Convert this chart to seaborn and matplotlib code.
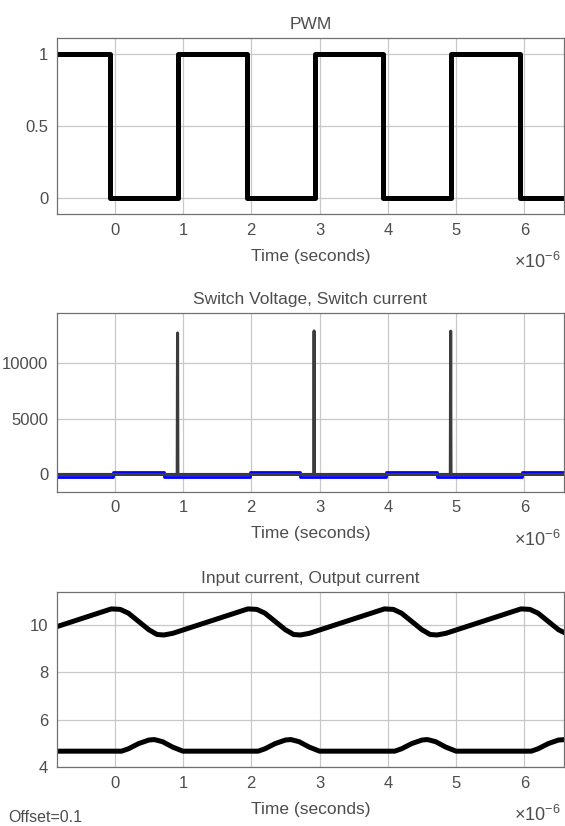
import numpy as np
import pandas as pd
import matplotlib
matplotlib.use("Agg")
import matplotlib.pyplot as plt
import seaborn as sns

# time axis in microseconds (shown with a x10^-6 multiplier like the scope plot)
pwm_t = [-0.85, -0.07, 0.93, 1.93, 2.93, 3.93, 4.93, 5.93, 6.6]
pwm_v = [1, 0, 1, 0, 1, 0, 1, 0, 0]

isw_t = [-0.85, -0.02, 0.72, 1.98, 2.72, 3.98, 4.72, 5.97, 6.6]
isw_v = [-230, 180, -230, 180, -230, 180, -230, 180, 180]

vsw_t = [-0.85, 0.915, 0.92, 0.925, 2.915, 2.92, 2.925, 4.915, 4.92, 4.925, 6.6]
vsw_v = [0, 0, 12640, 0, 0, 12820, 0, 0, 12800, 0, 0]

iin_t = [-0.85, -0.05, 0.08, 0.2, 0.35, 0.5, 0.62, 0.72, 0.85,
         1.95, 2.08, 2.2, 2.35, 2.5, 2.62, 2.72, 2.85,
         3.95, 4.08, 4.2, 4.35, 4.5, 4.62, 4.72, 4.85,
         5.95, 6.08, 6.2, 6.35, 6.5, 6.6]
iin_v = [9.93, 10.68, 10.66, 10.5, 10.15, 9.8, 9.6, 9.58, 9.65,
         10.68, 10.66, 10.5, 10.15, 9.8, 9.6, 9.58, 9.65,
         10.68, 10.66, 10.5, 10.15, 9.8, 9.6, 9.58, 9.65,
         10.68, 10.66, 10.5, 10.15, 9.8, 9.66]

iout_t = [-0.85, 0.1, 0.2, 0.35, 0.5, 0.58, 0.7, 0.85, 1.0,
          2.1, 2.2, 2.35, 2.5, 2.58, 2.7, 2.85, 3.0,
          4.1, 4.2, 4.35, 4.5, 4.58, 4.7, 4.85, 5.0,
          6.1, 6.2, 6.35, 6.5, 6.6]
iout_v = [4.68, 4.68, 4.78, 5.0, 5.15, 5.17, 5.08, 4.85, 4.68,
          4.68, 4.78, 5.0, 5.15, 5.17, 5.08, 4.85, 4.68,
          4.68, 4.78, 5.0, 5.15, 5.17, 5.08, 4.85, 4.68,
          4.68, 4.78, 5.0, 5.15, 5.17]

xticks = [0, 1, 2, 3, 4, 5, 6]

sns.set_style("white")
plt.rcParams["font.family"] = ["Liberation Sans", "DejaVu Sans"]
plt.rcParams["mathtext.fontset"] = "custom"
plt.rcParams["mathtext.rm"] = "Liberation Sans"
txt = "#4d4d4d"

fig = plt.figure(figsize=(5.65, 8.26), dpi=100)
left, width = 56.7 / 565, (564 - 56.7) / 565
boxes = [(38.3, 214.3), (313.3, 491.7), (592.3, 767.3)]
axes = [fig.add_axes([left, 1 - b / 826, width, (b - t) / 826]) for t, b in boxes]


def style(ax, title, yticks, ylim):
    ax.set_xlim(-0.85, 6.58)
    ax.set_ylim(*ylim)
    ax.set_xticks(xticks)
    ax.set_yticks(yticks)
    ax.set_yticklabels([f"{v:g}" for v in yticks])
    ax.grid(True, color="#c8c8c8", lw=0.9)
    ax.set_axisbelow(True)
    ax.tick_params(direction="in", length=3, colors="#606060", labelcolor=txt,
                   labelsize=12, pad=6)
    for s in ax.spines.values():
        s.set_color("#707070")
        s.set_linewidth(0.9)
    ax.set_title(title, fontsize=12.5, color=txt, pad=7)
    ax.set_xlabel("Time (seconds)", fontsize=12.5, color=txt, labelpad=8)
    ax.set_ylabel("")
    ax.text(0.993, -0.305, r"$\times\mathregular{10^{-6}}$", transform=ax.transAxes,
            ha="right", va="baseline", fontsize=13, color=txt)


ax1, ax2, ax3 = axes

df_pwm = pd.DataFrame({"t": pwm_t, "v": pwm_v})
sns.lineplot(data=df_pwm, x="t", y="v", ax=ax1, color="black", lw=3.6,
             drawstyle="steps-post", estimator=None, sort=False)
style(ax1, "PWM", [0, 0.5, 1], (-0.116, 1.112))

df_isw = pd.DataFrame({"t": isw_t, "v": isw_v})
df_vsw = pd.DataFrame({"t": vsw_t, "v": vsw_v})
sns.lineplot(data=df_isw, x="t", y="v", ax=ax2, color="#0000ff", lw=2.0,
             drawstyle="steps-post", estimator=None, sort=False)
sns.lineplot(data=df_vsw, x="t", y="v", ax=ax2, color="#3c3c3c", lw=2.2,
             estimator=None, sort=False)
style(ax2, "Switch Voltage, Switch current", [0, 5000, 10000], (-1540, 14400))

df_in = pd.DataFrame({"t": iin_t, "v": iin_v})
df_out = pd.DataFrame({"t": iout_t, "v": iout_v})
sns.lineplot(data=df_in, x="t", y="v", ax=ax3, color="black", lw=3.6,
             estimator=None, sort=False)
sns.lineplot(data=df_out, x="t", y="v", ax=ax3, color="black", lw=3.6,
             estimator=None, sort=False)
style(ax3, "Input current, Output current", [4, 6, 8, 10], (4, 11.38))

fig.text(8 / 565, 1 - 817 / 826, "Offset=0.1", fontsize=11.5, color=txt,
         ha="left", va="center")

fig.savefig("out.png", dpi=100)
